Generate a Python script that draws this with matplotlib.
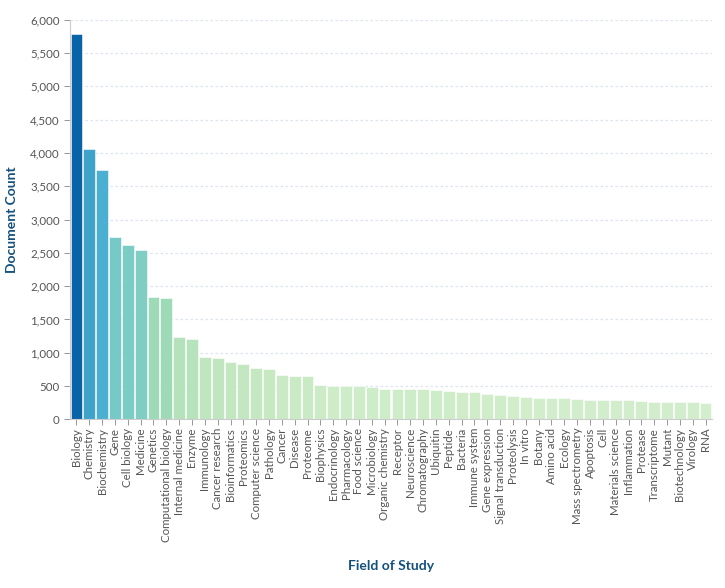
import numpy as np
import matplotlib
matplotlib.use('Agg')
import matplotlib.pyplot as plt
from matplotlib.ticker import FuncFormatter, MultipleLocator

# Данные: поле исследования и число документов
fields = ['Biology', 'Chemistry', 'Biochemistry', 'Gene', 'Cell biology', 'Medicine',
          'Genetics', 'Computational biology', 'Internal medicine', 'Enzyme', 'Immunology',
          'Cancer research', 'Bioinformatics', 'Proteomics', 'Computer science', 'Pathology',
          'Cancer', 'Disease', 'Proteome', 'Biophysics', 'Endocrinology', 'Pharmacology',
          'Food science', 'Microbiology', 'Organic chemistry', 'Receptor', 'Neuroscience',
          'Chromatography', 'Ubiquitin', 'Peptide', 'Bacteria', 'Immune system',
          'Gene expression', 'Signal transduction', 'Proteolysis', 'In vitro', 'Botany',
          'Amino acid', 'Ecology', 'Mass spectrometry', 'Apoptosis', 'Cell',
          'Materials science', 'Inflammation', 'Protease', 'Transcriptome', 'Mutant',
          'Biotechnology', 'Virology', 'RNA']
counts = [5785, 4055, 3742, 2730, 2622, 2535,
          1843, 1823, 1233, 1208, 938,
          923, 858, 838, 778, 753,
          668, 658, 653, 518, 503, 500,
          498, 483, 460, 458, 455,
          455, 438, 423, 413, 413,
          383, 363, 353, 343, 328,
          323, 323, 308, 298, 293,
          293, 290, 273, 268, 263,
          263, 263, 253]

plt.rcParams['font.family'] = ['Lato', 'DejaVu Sans']

fig = plt.figure(figsize=(7.25, 5.88), dpi=100)
ax = fig.add_axes([0.0966, 0.2866, 0.8854, 0.6802])

# Цвет по значению (GnBu)
cmap = plt.get_cmap('GnBu')
vals = np.array(counts, dtype=float)
t = 0.21 + 0.68 * (vals - vals.min()) / (vals.max() - vals.min())
colors = [cmap(v) for v in t]

x = np.arange(len(fields))
ax.bar(x, counts, width=0.92, color=colors, edgecolor='#ffffff', linewidth=0.4, zorder=2)

ax.set_xlim(-0.5, len(fields) - 0.5)
ax.set_ylim(0, 6000)
ax.yaxis.set_major_locator(MultipleLocator(500))
ax.yaxis.set_major_formatter(FuncFormatter(lambda v, p: f'{int(v):,}'))
ax.set_xticks(x)
ax.set_xticklabels(fields, rotation=90, fontsize=8.3, color='#555555')
ax.tick_params(axis='y', labelsize=8.3, labelcolor='#555555', color='#888888', length=4, width=0.6)
ax.tick_params(axis='x', color='#888888', length=4, width=0.6, pad=2)

ax.grid(axis='y', color='#dde4f0', linestyle=(0, (2, 2)), linewidth=0.9, zorder=0)
ax.set_axisbelow(True)
for s in ['top', 'right']:
    ax.spines[s].set_visible(False)
for s in ['left', 'bottom']:
    ax.spines[s].set_color('#cccccc')
    ax.spines[s].set_linewidth(0.8)

ax.set_ylabel('Document Count', fontsize=10, fontweight='bold', color='#12507e')
ax.set_xlabel('Field of Study', fontsize=10, fontweight='bold', color='#12507e')
ax.yaxis.set_label_coords(-0.081, 0.5)
ax.xaxis.set_label_coords(0.5, -0.351)

fig.savefig('out.png', dpi=100)
